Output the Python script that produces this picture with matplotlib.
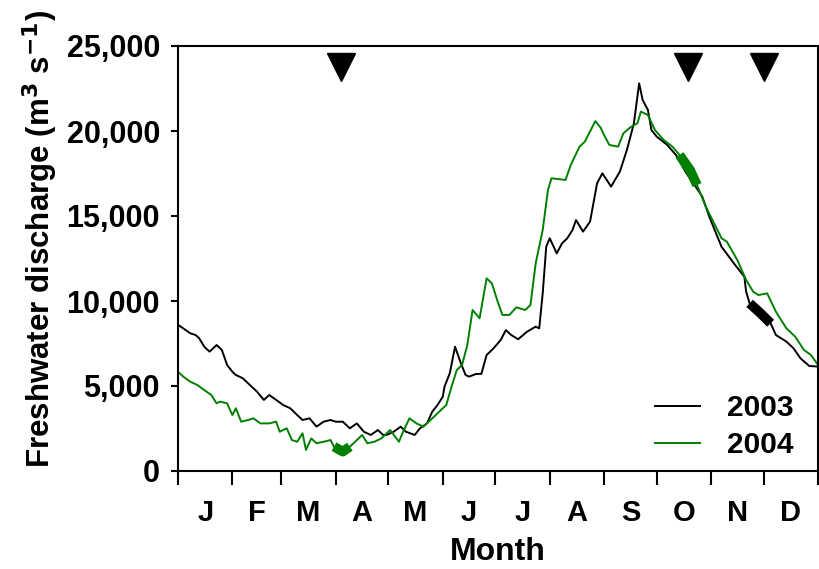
import numpy as np
import matplotlib
matplotlib.use("Agg")
import matplotlib.pyplot as plt
from matplotlib.ticker import FuncFormatter, FixedLocator

plt.rcParams["font.family"] = ["Liberation Sans", "DejaVu Sans"]
plt.rcParams["font.weight"] = "bold"

# day of year -> discharge (m3 s-1)
days_2003 = [0, 3, 7, 10, 12, 15, 18, 22, 25, 28, 31, 33, 37, 41, 45, 49, 52, 56, 60, 64,
             68, 71, 75, 79, 83, 87, 90, 94, 98, 102, 106, 110, 114, 117, 119, 123, 127, 130,
             135, 138, 142, 145, 148, 151, 152, 155, 158, 161, 164, 166, 170, 173, 176, 180,
             184, 187, 190, 194, 199, 204, 206, 208, 210, 212, 216, 219, 222, 225, 227, 231,
             235, 239, 242, 247, 252, 256, 260, 263, 265, 268, 270, 273, 279, 284, 290, 294,
             299, 303, 308, 310, 317, 323, 324, 326, 332, 338, 341, 347, 351, 355, 360, 365]
flow_2003 = [8600, 8390, 8100, 8000, 7820, 7310, 7020, 7410, 7120, 6240, 5840, 5650, 5450,
             5060, 4670, 4180, 4470, 4180, 3880, 3690, 3290, 3000, 3100, 2610, 2900, 3000,
             2900, 2900, 2510, 2800, 2310, 2120, 2410, 2120, 2120, 2310, 2610, 2310, 2120,
             2510, 2800, 3490, 3880, 4370, 4960, 5750, 7310, 6430, 5650, 5550, 5710, 5710,
             6820, 7220, 7700, 8290, 8000, 7750, 8190, 8490, 8390, 10450, 13190, 13690,
             12800, 13390, 13690, 14180, 14760, 14080, 14670, 16920, 17510, 16730, 17610,
             18880, 20450, 22800, 21820, 21240, 20060, 19670, 19180, 18590, 17510, 16920,
             16140, 14960, 13690, 13190, 12220, 11430, 10550, 9860, 9300, 8690, 8000, 7610,
             7220, 6630, 6180, 6140]

days_2004 = [0, 3, 7, 11, 15, 19, 22, 24, 28, 31, 33, 36, 40, 43, 47, 52, 56, 58, 62, 65,
             68, 71, 73, 76, 79, 83, 87, 89, 94, 98, 101, 105, 108, 112, 116, 121, 126, 128,
             132, 136, 140, 144, 147, 150, 153, 156, 159, 162, 165, 168, 172, 176, 179, 182,
             185, 189, 193, 198, 201, 204, 208, 211, 213, 221, 224, 229, 232, 238, 241, 243,
             246, 251, 254, 258, 262, 264, 268, 272, 277, 282, 286, 292, 296, 301, 310, 313,
             319, 324, 328, 331, 336, 341, 347, 352, 357, 361, 365]
flow_2004 = [5840, 5550, 5250, 5060, 4760, 4470, 3980, 4080, 3980, 3290, 3690, 2900, 3000,
             3100, 2800, 2800, 2900, 2310, 2510, 1820, 1720, 2220, 1240, 1920, 1630, 1720,
             1820, 1430, 1140, 1430, 1720, 2120, 1630, 1720, 1920, 2410, 1720, 2220, 3100,
             2800, 2610, 3000, 3290, 3590, 3880, 4960, 5940, 6240, 7410, 9470, 8980, 11330,
             11040, 10060, 9180, 9180, 9630, 9470, 9760, 12220, 14180, 16530, 17220, 17120,
             18000, 19080, 19370, 20580, 20200, 19760, 19180, 19080, 19860, 20220, 20450,
             21140, 20940, 20060, 19470, 19080, 18590, 17710, 16820, 15550, 13690, 13490,
             12410, 11240, 10550, 10350, 10450, 9370, 8390, 7900, 7120, 6820, 6240]

# sampling periods (thick line pieces) and cruise markers (triangles)
thick_2004 = [(89, 98), (286, 296)]
thick_2003 = [(326, 338)]
cruise_days = [93, 291, 334]

month_edges = [0, 31, 59, 90, 120, 151, 181, 212, 243, 273, 304, 334, 365]
month_labels = ["J", "F", "M", "A", "M", "J", "J", "A", "S", "O", "N", "D"]

c03 = "black"
c04 = "#008000"

fig = plt.figure(figsize=(8.19, 5.69), dpi=100)
ax = fig.add_axes([178 / 819, 1 - 471 / 569, 640 / 819, 425 / 569])

d03, f03 = np.array(days_2003), np.array(flow_2003)
d04, f04 = np.array(days_2004), np.array(flow_2004)
ax.plot(d03, f03, color=c03, lw=1.4, label="2003")
ax.plot(d04, f04, color=c04, lw=1.4, label="2004")

for a, b in thick_2004:
    m = (d04 >= a) & (d04 <= b)
    ax.plot(d04[m], f04[m], color=c04, lw=7, solid_capstyle="butt")
for a, b in thick_2003:
    m = (d03 >= a) & (d03 <= b)
    ax.plot(d03[m], f03[m], color=c03, lw=7, solid_capstyle="butt")

ax.plot(cruise_days, [23750] * len(cruise_days), "v", color="black",
        markersize=20, clip_on=False)

ax.set_xlim(0, 365)
ax.set_ylim(0, 25000)

ax.xaxis.set_major_locator(FixedLocator(month_edges))
ax.xaxis.set_minor_locator(FixedLocator(
    [(month_edges[i] + month_edges[i + 1]) / 2 for i in range(12)]))
ax.xaxis.set_major_formatter(FuncFormatter(lambda v, p: ""))
ax.set_xticklabels(month_labels, minor=True)
ax.tick_params(axis="x", which="major", length=10, width=1.5, direction="out")
ax.tick_params(axis="x", which="minor", length=0, pad=20, labelsize=21)

ax.set_yticks(range(0, 25001, 5000))
ax.yaxis.set_major_formatter(FuncFormatter(lambda v, p: f"{int(v):,}"))
ax.tick_params(axis="y", length=5, width=1.5, direction="out", pad=8, labelsize=22)

for s in ax.spines.values():
    s.set_linewidth(1.5)

ax.set_xlabel("Month", fontsize=23, fontweight="bold")
ax.xaxis.set_label_coords(0.5, -0.155)
ax.xaxis.label.set_va("top")
ax.set_ylabel("Freshwater discharge (m$^{\\mathbf{3}}$ s$^{\\mathbf{-1}}$)",
              fontsize=22.5, fontweight="bold")
ax.yaxis.set_label_coords(-0.185, 0.545)

ax.legend(loc="lower right", frameon=False, fontsize=21.5, handlelength=1.5,
          handletextpad=0.9, labelspacing=0.3, borderaxespad=0.0,
          bbox_to_anchor=(0.98, 0.0))

fig.savefig("out.png", dpi=100)
